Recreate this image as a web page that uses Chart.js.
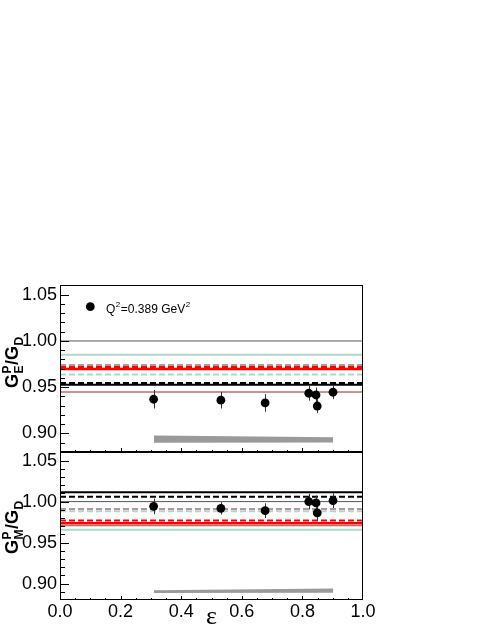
<!DOCTYPE html>
<html><head><meta charset="utf-8">
<script src="https://cdn.jsdelivr.net/npm/chart.js@4"></script>
<style>
html,body{margin:0;padding:0;background:#fff;}
#wrap{position:relative;width:485px;height:627px;background:#fff;}
canvas{position:absolute;left:0;top:0;}
</style></head><body>
<div id="wrap"><canvas id="cBot" width="485" height="627"></canvas><canvas id="cTop" width="485" height="627"></canvas></div>
<script>
// ---- data ----
const epsilon = [0.309, 0.531, 0.677, 0.821, 0.845, 0.849, 0.901];
const geRatio = [0.937, 0.936, 0.933, 0.9435, 0.9416, 0.9297, 0.9446];
const geError = [0.010, 0.009, 0.0095, 0.008, 0.008, 0.0075, 0.0075];
const gmRatio = [0.9942, 0.9918, 0.9890, 1.0000, 0.9984, 0.9862, 1.0012];
const gmError = [0.0095, 0.0075, 0.009, 0.0095, 0.009, 0.0095, 0.009];
const bandEps = [0.31, 0.902];
const geBandHigh = [0.8978, 0.8960];
const geBandLow = [0.8900, 0.8903];
const gmBandHigh = [0.8918, 0.8939];
const gmBandLow = [0.8886, 0.8889];
const modelNames = ['ref', 'tealSolid', 'brownDash', 'redDash', 'redSolid', 'tealDash', 'blackDash', 'blackSolid', 'brownSolid'];
const geModels = [1.000, 0.9850, 0.9739, 0.9718, 0.9696, 0.9638, 0.9545, 0.9527, 0.9448];
const gmModels = [1.000, 0.9657, 0.9911, 0.9771, 0.9735, 0.9881, 1.0058, 1.0114, 0.9710];
const yTickValues = [0.90, 0.95, 1.00, 1.05];
const xTickValues = [0.0, 0.2, 0.4, 0.6, 0.8, 1.0];
const legendLabel = ['Q', '2', '=0.389 GeV', '2'];

// ---- styles ----
const modelStyles = {
  ref:        {color: '#555555', width: 1,   dash: []},
  tealSolid:  {color: '#b0d5cb', width: 2,   dash: []},
  brownDash:  {color: '#b89494', width: 2,   dash: [6, 3]},
  redDash:    {color: '#ff0000', width: 2,   dash: [6, 3]},
  redSolid:   {color: '#ff0000', width: 2.5, dash: []},
  tealDash:   {color: '#b0d5cb', width: 2,   dash: [6, 3]},
  blackDash:  {color: '#000000', width: 2,   dash: [6, 3]},
  blackSolid: {color: '#000000', width: 2,   dash: []},
  brownSolid: {color: '#b46e6e', width: 1.5, dash: []}
};
const FONT = '"Liberation Sans", Arial, Helvetica, sans-serif';

function buildDatasets(models, ratio, err, bandLow, bandHigh) {
  const ds = [];
  ds.push({data: bandEps.map((x, i) => ({x, y: bandLow[i]})), borderWidth: 0, pointRadius: 0, fill: false, order: 20});
  ds.push({data: bandEps.map((x, i) => ({x, y: bandHigh[i]})), borderWidth: 0, pointRadius: 0,
           fill: 0, backgroundColor: '#9a9a9a', order: 19});
  modelNames.forEach((n, i) => {
    const s = modelStyles[n];
    ds.push({data: [{x: 0, y: models[i]}, {x: 1, y: models[i]}], borderColor: s.color, borderWidth: s.width,
             borderDash: s.dash, pointRadius: 0, fill: false, order: 10 - i * 0.1});
  });
  ds.push({data: epsilon.map((x, i) => ({x, y: ratio[i]})), err: err, showLine: false, pointRadius: 4.4,
           pointBackgroundColor: '#000', pointBorderColor: '#000', pointBorderWidth: 0, order: 0, isPoints: true});
  return ds;
}

const errPlugin = {
  id: 'errbars',
  beforeDatasetDraw(chart, args) {
    const ds = chart.data.datasets[args.index];
    if (!ds.isPoints) return;
    const {ctx} = chart; const xs = chart.scales.x, ys = chart.scales.y;
    ctx.save(); ctx.strokeStyle = '#333'; ctx.lineWidth = 1;
    ds.data.forEach((p, i) => {
      const x = Math.round(xs.getPixelForValue(p.x)) + 0.5;
      ctx.beginPath();
      ctx.moveTo(x, ys.getPixelForValue(p.y - ds.err[i]));
      ctx.lineTo(x, ys.getPixelForValue(p.y + ds.err[i]));
      ctx.stroke();
    });
    ctx.restore();
  }
};

const framePlugin = {
  id: 'frame',
  afterDraw(chart) {
    const {ctx, chartArea: a} = chart; const xs = chart.scales.x, ys = chart.scales.y;
    ctx.save(); ctx.strokeStyle = '#000'; ctx.lineWidth = 1;
    ctx.strokeRect(a.left + 0.5, a.top + 0.5, a.right - a.left - 1, a.bottom - a.top - 1);
    ctx.beginPath();
    for (let k = 89; k <= 106; k++) {
      const v = k / 100; const y = Math.round(ys.getPixelForValue(v)) + 0.5;
      const len = (k % 5 === 0) ? 9 : 5;
      ctx.moveTo(a.left, y); ctx.lineTo(a.left + len, y);
    }
    for (let k = 1; k < 20; k++) {
      const v = k / 20; const x = Math.round(xs.getPixelForValue(v)) + 0.5;
      const len = (k % 4 === 0) ? 4 : 2;
      ctx.moveTo(x, a.bottom); ctx.lineTo(x, a.bottom - len);
    }
    ctx.stroke();
    ctx.restore();
  }
};

function drawRotTitle(ctx, x, y, sup, sub) {
  ctx.save();
  ctx.translate(x, y); ctx.rotate(-Math.PI / 2);
  ctx.fillStyle = '#000'; ctx.textBaseline = 'alphabetic'; ctx.textAlign = 'left';
  let cx = 0;
  ctx.font = 'bold 18px ' + FONT; ctx.fillText('G', cx, 0); cx += ctx.measureText('G').width;
  ctx.font = 'bold 12px ' + FONT;
  ctx.fillText(sup, cx + 0.5, -7); ctx.fillText(sub, cx + 0.5, 5);
  cx += Math.max(ctx.measureText(sup).width, ctx.measureText(sub).width) + 1;
  ctx.font = 'bold 18px ' + FONT; ctx.fillText('/G', cx, 0); cx += ctx.measureText('/G').width;
  ctx.font = 'bold 12px ' + FONT; ctx.fillText('D', cx + 0.5, 5);
  ctx.restore();
}

const topDecor = {
  id: 'topDecor',
  afterDraw(chart) {
    const {ctx} = chart;
    ctx.save();
    ctx.fillStyle = '#000';
    ctx.beginPath(); ctx.arc(90.3, 306.7, 4.4, 0, Math.PI * 2); ctx.fill();
    ctx.textBaseline = 'alphabetic';
    let cx = 106;
    ctx.font = '12px ' + FONT; ctx.fillText(legendLabel[0], cx, 312.5); cx += ctx.measureText(legendLabel[0]).width;
    ctx.font = '8px ' + FONT; ctx.fillText(legendLabel[1], cx + 0.5, 307); cx += ctx.measureText(legendLabel[1]).width + 1;
    ctx.font = '12px ' + FONT; ctx.fillText(legendLabel[2], cx, 312.5); cx += ctx.measureText(legendLabel[2]).width;
    ctx.font = '8px ' + FONT; ctx.fillText(legendLabel[3], cx + 0.5, 307);
    ctx.restore();
    drawRotTitle(ctx, 18, 388, 'P', 'E');
  }
};
const botDecor = {
  id: 'botDecor',
  afterDraw(chart) {
    const {ctx} = chart;
    drawRotTitle(ctx, 18, 554, 'P', 'M');
    ctx.save();
    ctx.fillStyle = '#000'; ctx.font = '26px "Liberation Serif", "DejaVu Serif", serif';
    ctx.textAlign = 'center'; ctx.textBaseline = 'alphabetic';
    ctx.fillText('\u03b5', chart.scales.x.getPixelForValue(0.5), 624);
    ctx.restore();
  }
};

function makeChart(id, datasets, pad, showX, extra) {
  return new Chart(document.getElementById(id), {
    type: 'line',
    data: {datasets},
    options: {
      responsive: false, animation: false, events: [],
      layout: {padding: pad},
      plugins: {legend: {display: false}, tooltip: {enabled: false}},
      scales: {
        x: {type: 'linear', min: 0, max: 1, display: showX,
            afterBuildTicks: s => { s.ticks = xTickValues.map(v => ({value: v})); },
            ticks: {font: {family: FONT, size: 18}, color: '#000', padding: 1, maxRotation: 0,
                    callback: v => Number(v).toFixed(1)},
            grid: {display: false, drawTicks: false}, border: {display: false},
            afterFit: s => { s.height = showX ? 27 : 0; }},
        y: {type: 'linear', min: 0.88, max: 1.0605,
            afterBuildTicks: s => { s.ticks = yTickValues.map(v => ({value: v})); },
            ticks: {font: {family: FONT, size: 18}, color: '#000', padding: 3,
                    callback: v => Number(v).toFixed(2)},
            grid: {display: false, drawTicks: false}, border: {display: false},
            afterFit: s => { s.width = 60; }}
      }
    },
    plugins: [errPlugin, framePlugin, extra]
  });
}

makeChart('cTop', buildDatasets(geModels, geRatio, geError, geBandLow, geBandHigh),
          {left: 0, right: 122, top: 285, bottom: 175}, false, topDecor);
makeChart('cBot', buildDatasets(gmModels, gmRatio, gmError, gmBandLow, gmBandHigh),
          {left: 0, right: 122, top: 452, bottom: 0}, true, botDecor);
</script>
</body></html>
